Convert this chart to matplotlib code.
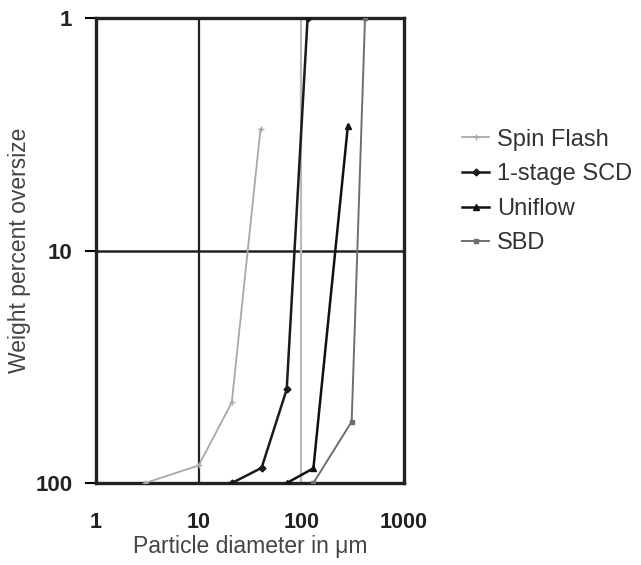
import matplotlib
matplotlib.use("Agg")
import matplotlib.pyplot as plt
from matplotlib.ticker import FixedLocator, FixedFormatter, NullLocator

plt.rcParams['font.family'] = ['Liberation Sans', 'DejaVu Sans']

# Data (x = particle diameter in um, y = weight percent oversize)
spin_x = [3, 10, 21, 40]
spin_y = [100, 84, 45, 3]
scd_x = [21, 41, 72, 115]
scd_y = [100, 86, 39.5, 1]
uni_x = [72, 131, 284]
uni_y = [100, 86.4, 2.9]
sbd_x = [131, 309, 417]
sbd_y = [100, 54.4, 1]

x_ticks = [1, 10, 100, 1000]
y_ticks = [1, 10, 100]

fig = plt.figure(figsize=(6.41, 5.65), dpi=100)
ax = fig.add_axes([0.1498, 0.145, 0.4805, 0.823])

ax.set_xscale('log')
ax.set_yscale('log')
ax.set_xlim(1, 1000)
ax.set_ylim(100, 1)

# grid lines at the decade 10 and a faint line at 100
ax.axvline(10, color='#222222', lw=1.6, zorder=1)
ax.axhline(10, color='#222222', lw=1.8, zorder=1)
ax.axvline(100, color='#bbbbbb', lw=1.6, zorder=1)

ax.plot(spin_x, spin_y, color='#a8a8a8', lw=1.3, marker='+', ms=4, mew=1, label='Spin Flash', zorder=3)
ax.plot(scd_x, scd_y, color='#1a1a1a', lw=1.8, marker='D', ms=3.5, label='1-stage SCD', zorder=4)
ax.plot(uni_x, uni_y, color='#111111', lw=1.8, marker='^', ms=4, label='Uniflow', zorder=4)
ax.plot(sbd_x, sbd_y, color='#6e6e6e', lw=1.4, marker='s', ms=3.5, label='SBD', zorder=3)

for s in ax.spines.values():
    s.set_linewidth(2.4)
    s.set_color('#222222')

ax.xaxis.set_major_locator(FixedLocator(x_ticks))
ax.xaxis.set_major_formatter(FixedFormatter([str(v) for v in x_ticks]))
ax.xaxis.set_minor_locator(NullLocator())
ax.yaxis.set_major_locator(FixedLocator(y_ticks))
ax.yaxis.set_major_formatter(FixedFormatter([str(v) for v in y_ticks]))
ax.yaxis.set_minor_locator(NullLocator())

ax.tick_params(axis='x', length=0, pad=21, labelsize=15.5, labelcolor='#222222')
ax.tick_params(axis='y', length=8, width=1.5, pad=9, labelsize=16, labelcolor='#222222')
for lab in ax.get_xticklabels() + ax.get_yticklabels():
    lab.set_fontweight('bold')

ax.set_xlabel('Particle diameter in \u03bcm', fontsize=16.5, color='#444444', labelpad=1)
ax.set_ylabel('Weight percent oversize', fontsize=16.5, color='#444444', labelpad=3)

leg = ax.legend(loc='center left', bbox_to_anchor=(1.188, 0.627), frameon=False,
                fontsize=17, handlelength=1.15, handletextpad=0.33, labelspacing=0.53,
                borderpad=0, borderaxespad=0)
for t in leg.get_texts():
    t.set_color('#333333')

fig.savefig('out.png', dpi=100)
